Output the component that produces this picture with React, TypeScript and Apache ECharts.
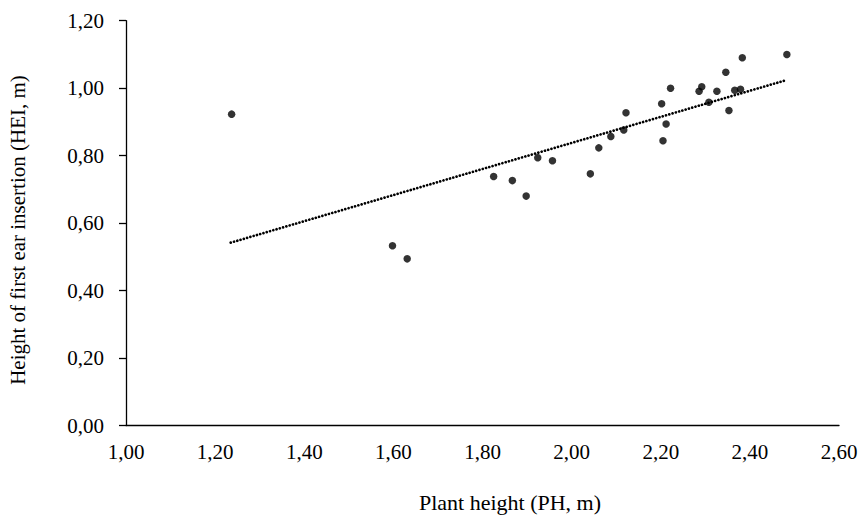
import React, { useEffect, useRef } from "react";
import * as echarts from "echarts";

const plantHeight = [
  2.483, 2.383, 2.346, 2.292, 2.286, 2.326, 2.366, 2.379, 2.222, 2.308,
  2.353, 2.202, 2.212, 2.205, 2.122, 2.117, 2.088, 2.061, 1.924, 1.957,
  2.042, 1.825, 1.867, 1.898, 1.237, 1.598, 1.631,
];
const earHeight = [
  1.1, 1.09, 1.047, 1.004, 0.991, 0.991, 0.994, 0.997, 1.0, 0.958,
  0.934, 0.954, 0.894, 0.844, 0.927, 0.876, 0.857, 0.823, 0.794, 0.785,
  0.746, 0.738, 0.726, 0.68, 0.923, 0.533, 0.494,
];
const trendX = [1.235, 2.482];
const trendY = [0.542, 1.024];

const xTitle = "Plant height (PH, m)";
const yTitle = "Height of first ear insertion (HEI, m)";

const FONT = '"Liberation Serif", "Times New Roman", serif';
const fmt = (v: number) => v.toFixed(2).replace(".", ",");

export default function App() {
  const ref = useRef<HTMLDivElement>(null);
  useEffect(() => {
    if (!ref.current) return;
    const chart = echarts.init(ref.current, undefined, { renderer: "svg" });
    chart.setOption({
      animation: false,
      backgroundColor: "#fff",
      grid: { left: 126, right: 24, top: 20.7, bottom: 90.5, containLabel: false },
      graphic: [
        {
          type: "text",
          x: 510,
          y: 502,
          style: {
            text: xTitle,
            font: `22px ${FONT}`,
            fill: "#000",
            textAlign: "center",
            textVerticalAlign: "middle",
          },
        },
        {
          type: "text",
          x: 17.5,
          y: 230,
          rotation: Math.PI / 2,
          style: {
            text: yTitle,
            font: `21px ${FONT}`,
            fill: "#000",
            textAlign: "center",
            textVerticalAlign: "middle",
          },
        },
      ],
      xAxis: {
        type: "value",
        min: 1.0,
        max: 2.6,
        interval: 0.2,
        splitLine: { show: false },
        axisTick: { show: false },
        axisLine: { show: true, lineStyle: { color: "#000", width: 1.3 } },
        axisLabel: {
          formatter: fmt,
          fontFamily: FONT,
          fontSize: 21,
          color: "#000",
          margin: 16,
        },
      },
      yAxis: {
        type: "value",
        min: 0,
        max: 1.2,
        interval: 0.2,
        splitLine: { show: false },
        axisTick: { show: true, inside: false, length: 7, lineStyle: { color: "#000", width: 1.3 } },
        axisLine: { show: true, onZero: false, lineStyle: { color: "#000", width: 1.3 } },
        axisLabel: {
          formatter: fmt,
          fontFamily: FONT,
          fontSize: 21,
          color: "#000",
          margin: 22,
        },
      },
      series: [
        {
          type: "line",
          data: trendX.map((x, i) => [x, trendY[i]]),
          showSymbol: false,
          symbol: "none",
          lineStyle: { color: "#000", width: 2.7, type: [0.01, 3.4], cap: "round" },
          z: 2,
        },
        {
          type: "scatter",
          data: plantHeight.map((x, i) => [x, earHeight[i]]),
          symbol: "circle",
          symbolSize: 7.5,
          itemStyle: { color: "#000" },
          z: 3,
        },
      ],
    });
    return () => chart.dispose();
  }, []);
  return (
    <div
      ref={ref}
      style={{ position: "fixed", left: 0, top: 0, width: 863, height: 516 }}
    />
  );
}
